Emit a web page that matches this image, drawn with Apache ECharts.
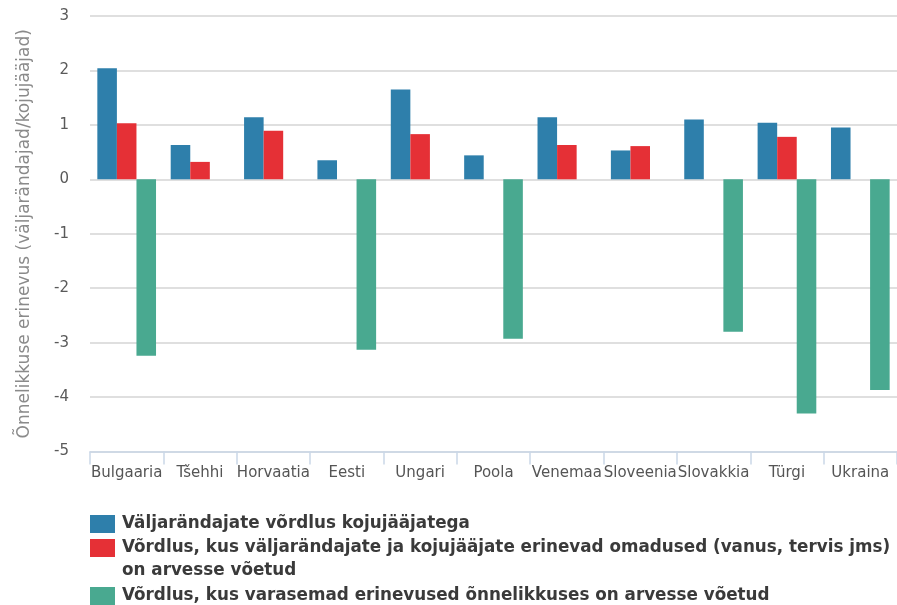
<!DOCTYPE html>
<html>
<head>
<meta charset="utf-8">
<script src="https://cdn.jsdelivr.net/npm/echarts@6/dist/echarts.min.js"></script>
<style>
  html, body { margin: 0; padding: 0; background: #ffffff; }
  #chart { width: 897px; height: 605px; }
</style>
</head>
<body>
<div id="chart"></div>
<script>
// Countries on the category axis
const countries = ['Bulgaaria', 'Tšehhi', 'Horvaatia', 'Eesti', 'Ungari', 'Poola',
  'Venemaa', 'Sloveenia', 'Slovakkia', 'Türgi', 'Ukraina'];

// Happiness difference (emigrants vs. stayers) for the three comparisons
const plainComparison = [2.04, 0.63, 1.14, 0.35, 1.65, 0.44, 1.14, 0.53, 1.10, 1.04, 0.95];
const adjustedTraits = [1.03, 0.32, 0.89, null, 0.83, null, 0.63, 0.61, null, 0.78, null];
const adjustedPriorHappiness = [-3.24, null, null, -3.13, null, -2.93, null, null, -2.80, -4.30, -3.87];

const seriesNames = [
  'Väljarändajate võrdlus kojujääjatega',
  'Võrdlus, kus väljarändajate ja kojujääjate erinevad omadused (vanus, tervis jms)',
  'Võrdlus, kus varasemad erinevused õnnelikkuses on arvesse võetud'
];
// second legend entry wraps onto a continuation line
const legendContinuation = ['', 'on arvesse võetud', ''];
const seriesColors = ['#2e7fab', '#e53036', '#49a990'];

const yTicks = { min: -5, max: 3, interval: 1 };
const yAxisTitle = 'Õnnelikkuse erinevus (väljarändajad/kojujääjad)';

const font = '"DejaVu Sans", Verdana, sans-serif';

function legendAt(idx, top) {
  const cont = legendContinuation[idx];
  return {
    show: true,
    data: [seriesNames[idx]],
    left: 90,
    top: top,
    padding: 0,
    orient: 'vertical',
    icon: 'rect',
    itemWidth: 25,
    itemHeight: 18,
    selectedMode: false,
    // a blank leading line keeps the swatch level with the first text line
    formatter: name => cont ? '\u00a0\n' + name + '\n' + cont : name,
    textStyle: {
      fontFamily: font,
      fontSize: 16.8,
      fontWeight: 'bold',
      color: '#3a3a3a',
      lineHeight: 23,
      padding: [0, 0, 0, 2]
    }
  };
}

const chart = echarts.init(document.getElementById('chart'), null, { renderer: 'canvas' });

chart.setOption({
  backgroundColor: '#ffffff',
  animation: false,
  textStyle: { fontFamily: font },
  grid: { left: 90, right: -5, top: 16, bottom: 153.5, containLabel: false },
  legend: [legendAt(0, 512.5), legendAt(1, 513.5), legendAt(2, 584.5)],
  xAxis: {
    type: 'category',
    data: countries,
    axisLine: { onZero: false, lineStyle: { color: '#cad8e8', width: 1.5 } },
    axisTick: { show: true, length: 13, lineStyle: { color: '#cad8e8', width: 1.5 } },
    axisLabel: { color: '#555555', fontSize: 15, margin: 14, fontFamily: font, interval: 0 },
    splitLine: { show: false }
  },
  yAxis: {
    type: 'value',
    min: yTicks.min,
    max: yTicks.max,
    interval: yTicks.interval,
    name: yAxisTitle,
    nameLocation: 'middle',
    nameGap: 57,
    nameTextStyle: { color: '#8a8a8a', fontSize: 17, fontFamily: font },
    axisLine: { show: false },
    axisTick: { show: false },
    axisLabel: { color: '#5a5a5a', fontSize: 15, margin: 21, fontFamily: font },
    splitLine: { lineStyle: { color: '#d4d4d4', width: 1.5 } }
  },
  series: [plainComparison, adjustedTraits, adjustedPriorHappiness].map((vals, i) => ({
    name: seriesNames[i],
    type: 'bar',
    data: vals,
    barGap: '0%',
    barCategoryGap: '20%',
    itemStyle: { color: seriesColors[i] }
  }))
});
</script>
</body>
</html>
